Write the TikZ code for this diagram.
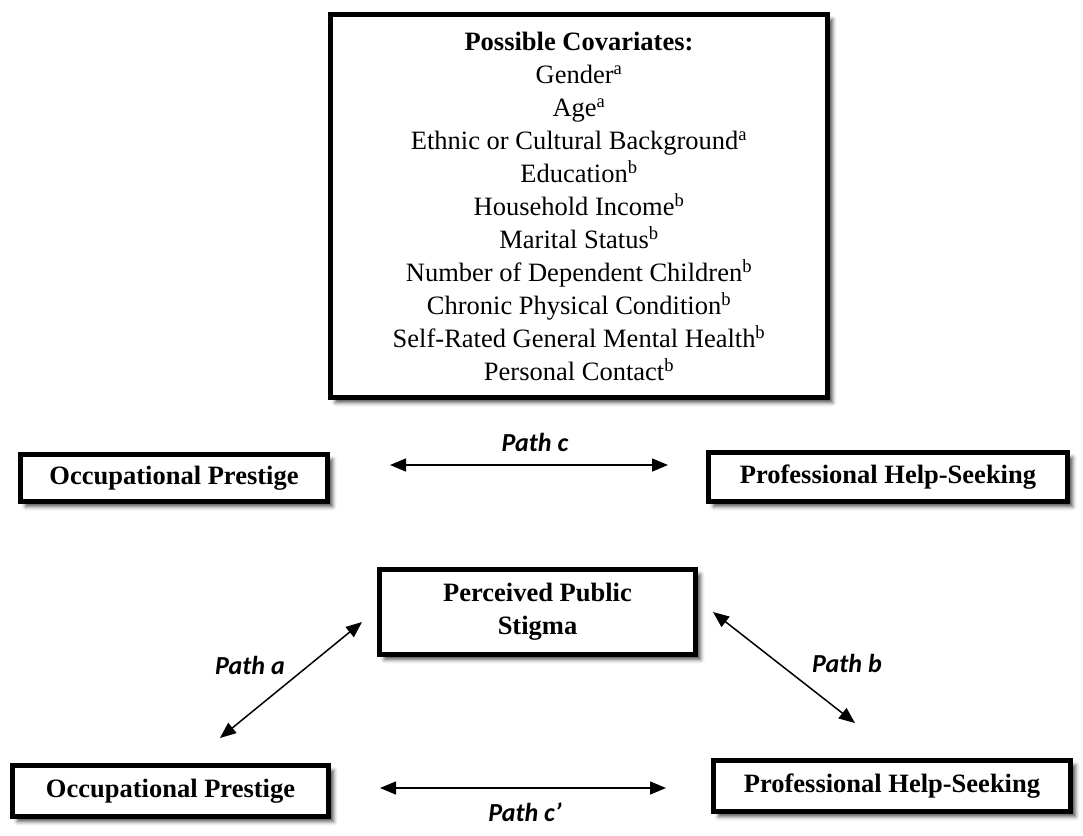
\documentclass[tikz,border=0pt]{standalone}
\usepackage{fontspec}
\setmainfont{Liberation Serif}
\newfontfamily\calibri{Carlito}
\usetikzlibrary{arrows.meta, shadows.blur}

\tikzset{
  box/.style={draw, line width=5pt, fill=white, align=center, inner sep=0pt,
    font=\bfseries\fontsize{26.5}{33}\selectfont,
    blur shadow={shadow xshift=5pt, shadow yshift=-5pt, shadow blur radius=4pt, shadow opacity=70}},
  covbox/.style={box, font=\fontsize{26.5}{33}\selectfont},
  pathlabel/.style={inner sep=0pt, font=\calibri\bfseries\itshape\fontsize{26}{30}\selectfont},
  patharrow/.style={{Triangle[length=16pt,width=13pt]}-{Triangle[length=16pt,width=13pt]}, line width=1.5pt},
}

\begin{document}
\begin{tikzpicture}[x=1pt, y=-1pt]
        \useasboundingbox (0,0) rectangle (1083,835);

        % covariates
        \node[covbox, minimum width=497, minimum height=383] (cov) at (579,206)
          {\textbf{Possible Covariates:}\\
           Gender\textsuperscript{a}\\
           Age\textsuperscript{a}\\
           Ethnic or Cultural Background\textsuperscript{a}\\
           Education\textsuperscript{b}\\
           Household Income\textsuperscript{b}\\
           Marital Status\textsuperscript{b}\\
           Number of Dependent Children\textsuperscript{b}\\
           Chronic Physical Condition\textsuperscript{b}\\
           Self-Rated General Mental Health\textsuperscript{b}\\
           Personal Contact\textsuperscript{b}};

        % total effect
        \node[box, minimum width=307, minimum height=47] (prestige1) at (174,478) {Occupational Prestige};
        \node[box, minimum width=359, minimum height=49] (help1) at (888,477) {Professional Help-Seeking};

        % mediation
        \node[box, minimum width=316, minimum height=85] (stigma) at (537.5,612) {Perceived Public\\Stigma};
        \node[box, minimum width=316, minimum height=51] (prestige2) at (170.5,791) {Occupational Prestige};
        \node[box, minimum width=357, minimum height=51] (help2) at (892,786) {Professional Help-Seeking};

        \coordinate (c1) at (390,465);
        \coordinate (c2) at (668,465);
        \coordinate (a1) at (220,738);
        \coordinate (a2) at (362,622);
        \coordinate (b1) at (713,612);
        \coordinate (b2) at (855,723);
        \coordinate (d1) at (380,788);
        \coordinate (d2) at (666,788);

        \draw[patharrow] (c1) -- (c2);
        \draw[patharrow] (a1) -- (a2);
        \draw[patharrow] (b1) -- (b2);
        \draw[patharrow] (d1) -- (d2);

        \node[pathlabel] (lc) at (535,442) {Path c};
        \node[pathlabel] (la) at (250,665) {Path a};
        \node[pathlabel] (lb) at (847,663) {Path b};
        \node[pathlabel] (ld) at (525,812) {Path c’};

\end{tikzpicture}
\end{document}
